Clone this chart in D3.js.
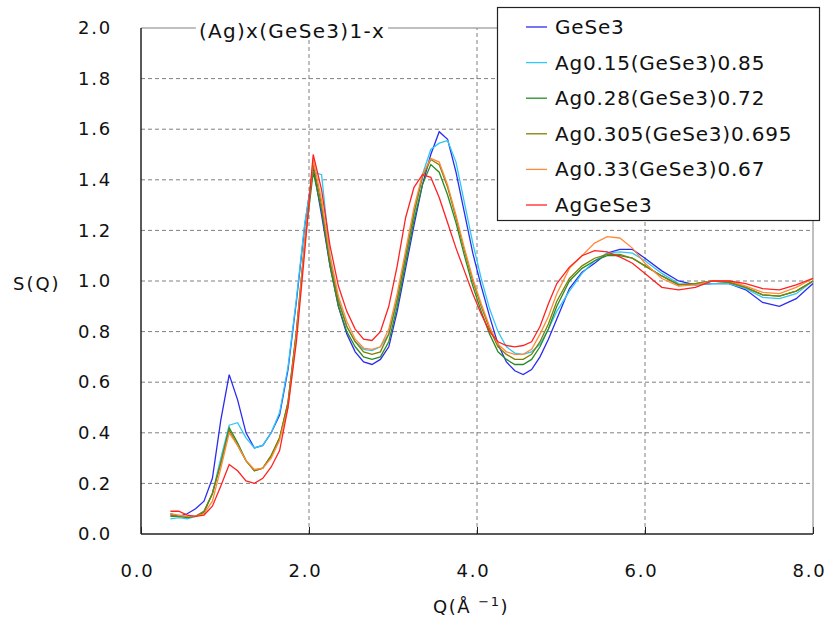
<!DOCTYPE html>
<html>
<head>
<meta charset="utf-8">
<script src="https://cdn.jsdelivr.net/npm/d3@7"></script>
<style>
  html, body { margin: 0; padding: 0; background: #fff; }
  svg { display: block; }
  text { font-family: "DejaVu Sans", sans-serif; fill: #111; }
</style>
</head>
<body>
<svg id="chart" width="830" height="619"></svg>
<script>
// ---- data ----
const qValues = [0.35,0.45,0.55,0.65,0.75,0.85,0.95,1.05,1.15,1.25,1.35,1.45,1.55,1.65,1.75,1.85,1.95,2.05,2.15,2.25,2.35,2.45,2.55,2.65,2.75,2.85,2.95,3.05,3.15,3.25,3.35,3.45,3.55,3.65,3.75,3.85,3.95,4.05,4.15,4.25,4.35,4.45,4.55,4.65,4.75,4.85,4.95,5.1,5.25,5.4,5.55,5.7,5.85,6.0,6.2,6.4,6.6,6.8,7.0,7.2,7.4,7.6,7.8,8.0];

const geSe3 = [0.08,0.07,0.08,0.10,0.13,0.22,0.45,0.63,0.53,0.40,0.34,0.35,0.40,0.47,0.65,0.92,1.22,1.45,1.26,1.06,0.90,0.79,0.72,0.68,0.67,0.69,0.74,0.88,1.05,1.22,1.38,1.50,1.59,1.56,1.43,1.27,1.11,0.98,0.86,0.75,0.68,0.645,0.63,0.65,0.70,0.77,0.85,0.97,1.035,1.07,1.11,1.125,1.125,1.09,1.04,1.00,0.985,0.99,0.99,0.965,0.915,0.90,0.93,0.99];
const ag015 = [0.06,0.065,0.06,0.07,0.09,0.16,0.30,0.43,0.44,0.38,0.34,0.35,0.40,0.48,0.66,0.93,1.23,1.43,1.42,1.10,0.93,0.82,0.76,0.73,0.725,0.74,0.79,0.92,1.09,1.26,1.42,1.52,1.545,1.555,1.47,1.31,1.15,1.01,0.89,0.80,0.74,0.715,0.71,0.72,0.75,0.81,0.88,0.96,1.03,1.08,1.11,1.115,1.11,1.08,1.03,0.99,0.985,0.99,0.99,0.97,0.935,0.93,0.95,1.00];
const ag028 = [0.07,0.07,0.065,0.07,0.085,0.16,0.28,0.42,0.36,0.29,0.25,0.26,0.31,0.38,0.52,0.80,1.15,1.43,1.28,1.06,0.90,0.80,0.74,0.70,0.69,0.70,0.76,0.90,1.07,1.24,1.38,1.46,1.43,1.34,1.23,1.10,0.98,0.88,0.79,0.72,0.69,0.67,0.67,0.69,0.74,0.81,0.90,1.00,1.05,1.08,1.10,1.10,1.09,1.06,1.02,0.985,0.99,1.00,0.995,0.975,0.945,0.94,0.96,1.00];
const ag0305 = [0.075,0.07,0.07,0.07,0.09,0.16,0.28,0.41,0.35,0.29,0.25,0.26,0.31,0.38,0.52,0.80,1.16,1.46,1.30,1.08,0.92,0.82,0.76,0.72,0.71,0.72,0.79,0.93,1.10,1.27,1.41,1.48,1.46,1.37,1.25,1.12,1.00,0.90,0.81,0.74,0.71,0.69,0.69,0.71,0.76,0.83,0.92,1.01,1.06,1.09,1.105,1.105,1.09,1.06,1.02,0.985,0.99,1.00,0.995,0.975,0.945,0.94,0.96,1.00];
const ag033 = [0.08,0.075,0.07,0.07,0.08,0.13,0.26,0.40,0.35,0.29,0.255,0.26,0.30,0.37,0.50,0.78,1.15,1.48,1.32,1.10,0.94,0.84,0.77,0.735,0.73,0.74,0.81,0.95,1.12,1.29,1.42,1.485,1.47,1.38,1.26,1.13,1.01,0.91,0.82,0.75,0.72,0.71,0.71,0.73,0.79,0.86,0.95,1.05,1.10,1.15,1.175,1.17,1.13,1.07,1.01,0.98,0.985,1.00,1.00,0.98,0.955,0.95,0.975,1.01];
const agGeSe3 = [0.09,0.09,0.075,0.07,0.075,0.11,0.19,0.275,0.25,0.21,0.20,0.22,0.265,0.33,0.50,0.76,1.12,1.50,1.36,1.14,0.98,0.88,0.81,0.77,0.765,0.80,0.90,1.06,1.25,1.37,1.42,1.41,1.33,1.23,1.13,1.04,0.95,0.87,0.80,0.76,0.745,0.74,0.745,0.76,0.82,0.91,0.99,1.055,1.10,1.12,1.115,1.095,1.07,1.03,0.975,0.965,0.975,1.00,1.00,0.99,0.97,0.965,0.985,1.01];

const seriesNames = ["GeSe3","Ag0.15(GeSe3)0.85","Ag0.28(GeSe3)0.72","Ag0.305(GeSe3)0.695","Ag0.33(GeSe3)0.67","AgGeSe3"];
const seriesValues = [geSe3, ag015, ag028, ag0305, ag033, agGeSe3];
const seriesColors = ["#2b2bf0","#2ec8f5","#2a8a2a","#7f7f00","#ff8a3a","#ff2222"];

const xTicks = [0,2,4,6,8];
const yTicks = [0,0.2,0.4,0.6,0.8,1.0,1.2,1.4,1.6,1.8,2.0];
const titleText = "(Ag)x(GeSe3)1-x";

// ---- drawing ----
const svg = d3.select("#chart");
svg.append("rect").attr("width",830).attr("height",619).attr("fill","#fff");

const x = d3.scaleLinear().domain([0,8]).range([141,813]);
const y = d3.scaleLinear().domain([0,2]).range([534,28]);

// grid
const grid = svg.append("g");
grid.selectAll("line.h").data(yTicks.filter(v => v > 0 && v < 2)).join("line")
  .attr("x1", x(0)).attr("x2", x(8)).attr("y1", d => y(d)).attr("y2", d => y(d))
  .attr("stroke","#808080").attr("stroke-width",1).attr("stroke-dasharray","4,3");
grid.selectAll("line.v").data(xTicks.filter(v => v > 0 && v < 8)).join("line")
  .attr("x1", d => x(d)).attr("x2", d => x(d)).attr("y1", y(0)).attr("y2", y(2))
  .attr("stroke","#808080").attr("stroke-width",1).attr("stroke-dasharray","4,3");

// frame (top & right grey)
svg.append("line").attr("x1",x(0)).attr("x2",x(8)).attr("y1",y(2)).attr("y2",y(2)).attr("stroke","#808080");
svg.append("line").attr("x1",x(8)).attr("x2",x(8)).attr("y1",y(2)).attr("y2",y(0)).attr("stroke","#808080");

// axes
const yAxis = d3.axisLeft(y).tickValues(yTicks).tickSize(0).tickPadding(29).tickFormat(d3.format(".1f"));
const gy = svg.append("g").attr("transform",`translate(${x(0)},0)`).call(yAxis);
gy.select(".domain").remove();
gy.selectAll("text").attr("font-size",18).attr("font-family","DejaVu Sans").attr("letter-spacing","1.8").attr("fill","#111");

const xAxis = d3.axisBottom(x).tickValues(xTicks).tickSizeInner(-7).tickSizeOuter(0).tickPadding(0).tickFormat(d3.format(".1f"));
const gx = svg.append("g").attr("transform",`translate(0,${y(0)})`).call(xAxis);
gx.select(".domain").remove();
gx.selectAll("line").attr("stroke","#222");
gx.selectAll("text").attr("font-size",18).attr("font-family","DejaVu Sans").attr("letter-spacing","1.8")
  .attr("y",43).attr("dy",0).attr("dx",-4).attr("fill","#111");

svg.append("line").attr("x1",x(0)).attr("x2",x(0)).attr("y1",y(2)).attr("y2",y(0)).attr("stroke","#222").attr("stroke-width",1.5);
svg.append("line").attr("x1",x(0)).attr("x2",x(8)).attr("y1",y(0)).attr("y2",y(0)).attr("stroke","#222").attr("stroke-width",1.5);

// lines
const line = d3.line().x((d,i) => x(qValues[i])).y(d => y(d));
svg.append("g").selectAll("path").data(seriesValues).join("path")
  .attr("d", d => line(d)).attr("fill","none")
  .attr("stroke",(d,i) => seriesColors[i]).attr("stroke-width",1.3);

// title on top border
const titleBg = svg.append("rect").attr("fill","#fff");
const title = svg.append("text").attr("x",292).attr("y",38).attr("text-anchor","middle")
  .attr("font-size",20).attr("letter-spacing","1.3").text(titleText);
const tb = title.node().getBBox();
titleBg.attr("x",tb.x-3).attr("y",y(2)-2).attr("width",tb.width+6).attr("height",5);

// axis titles
svg.append("text").attr("x",13).attr("y",290).attr("font-size",18).attr("letter-spacing","2").text("S(Q)");
const xt = svg.append("text").attr("x",433).attr("y",613).attr("font-size",18).attr("letter-spacing","1.5");
xt.append("tspan").text("Q(Å ");
xt.append("tspan").attr("dy",-7).attr("font-size",13).text("−1");
xt.append("tspan").attr("dy",7).text(")");

// legend
const lg = svg.append("g");
lg.append("rect").attr("x",497.5).attr("y",7.5).attr("width",322).attr("height",213)
  .attr("fill","#fff").attr("stroke","#222").attr("stroke-width",1.2);
const rows = lg.selectAll("g.row").data(seriesNames).join("g")
  .attr("transform",(d,i) => `translate(0,${27 + i*35.6})`);
rows.append("line").attr("x1",526).attr("x2",547).attr("y1",0).attr("y2",0)
  .attr("stroke",(d,i) => seriesColors[i]).attr("stroke-width",1.3);
rows.append("text").attr("x",555).attr("y",7).attr("font-size",20).attr("letter-spacing","0.8").text(d => d);
</script>
</body>
</html>
